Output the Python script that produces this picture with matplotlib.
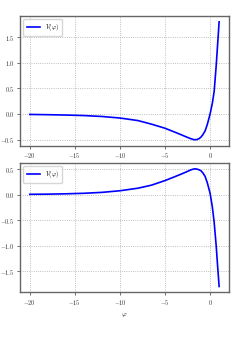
import matplotlib
matplotlib.use('Agg')
import matplotlib.pyplot as plt

# values
phi = [-20, -18, -16, -14, -12, -10, -8, -6.5, -5, -4, -3.3, -2.7, -2.2, -1.95,
       -1.7, -1.45, -1.2, -1.0, -0.8, -0.55, -0.3, 0.0, 0.25, 0.45, 0.67,
       0.85, 1.0]
v_top = [-0.01, -0.015, -0.022, -0.032, -0.05, -0.08, -0.13, -0.2, -0.28, -0.35,
         -0.40, -0.445, -0.48, -0.495, -0.505, -0.5, -0.48, -0.45, -0.405,
         -0.33, -0.2, 0.0, 0.21, 0.44, 0.93, 1.4, 1.8]
v_bot = [0.01, 0.013, 0.02, 0.03, 0.048, 0.08, 0.13, 0.19, 0.28, 0.35, 0.40,
         0.445, 0.485, 0.50, 0.51, 0.505, 0.49, 0.47, 0.43, 0.36, 0.23, 0.03,
         -0.24, -0.54, -0.99, -1.44, -1.8]

plt.rcParams['font.family'] = 'serif'
plt.rcParams['font.serif'] = ['cmr10']
plt.rcParams['mathtext.fontset'] = 'cm'
plt.rcParams['axes.formatter.use_mathtext'] = True
plt.rcParams['font.size'] = 4.5

fig = plt.figure(figsize=(2.45, 3.46), dpi=100)
ax1 = fig.add_axes([0.083, 0.579, 0.850, 0.375])
ax2 = fig.add_axes([0.083, 0.155, 0.850, 0.374])

for ax, v in [(ax1, v_top), (ax2, v_bot)]:
    ax.plot(phi, v, color='blue', lw=1.2, label=r'$V(\varphi)$')
    ax.grid(True, ls=':', lw=0.6, color='#aaaaaa')
    for s in ax.spines.values():
        s.set_color('#666666')
        s.set_linewidth(1.0)
    ax.tick_params(labelsize=4.5, length=2, width=0.5, pad=2, colors='#333333')
    ax.set_xticks([-20, -15, -10, -5, 0])
    ax.legend(loc='upper left', fontsize=4.5, handlelength=2.2, borderpad=0.5,
              framealpha=0.8)

ax1.set_yticks([-0.5, 0.0, 0.5, 1.0, 1.5])
ax2.set_yticks([-1.5, -1.0, -0.5, 0.0, 0.5])
ax2.set_xlabel(r'$\varphi$', fontsize=5, labelpad=3)

fig.savefig('out.png', dpi=100)
